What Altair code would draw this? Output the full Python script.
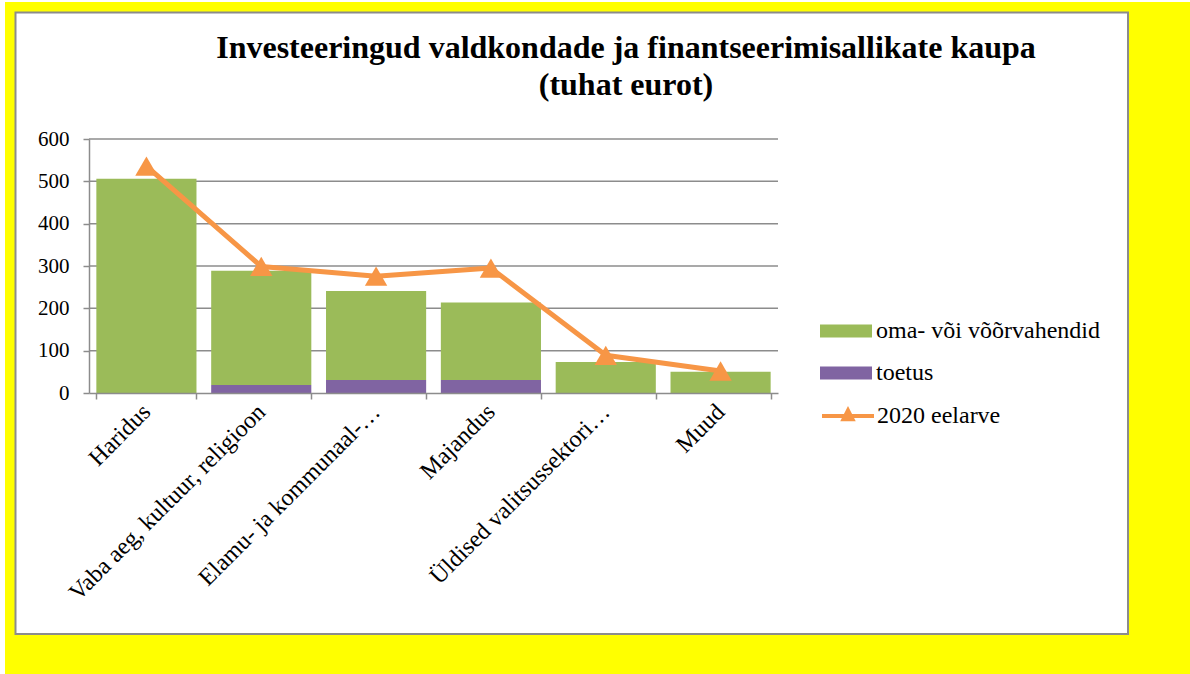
import altair as alt
import pandas as pd

categories = [
    "Haridus",
    "Vaba aeg, kultuur, religioon",
    "Elamu- ja kommunaal-…",
    "Majandus",
    "Üldised valitsussektori…",
    "Muud",
]
oma = [506, 270, 210, 183, 73, 50]
toetus = [0, 19, 31, 31, 0, 0]
eelarve = [536, 299, 276, 295, 89, 52]
y_ticks = [0, 100, 200, 300, 400, 500, 600]
grid_values = [100, 200, 300, 400, 500, 600]

S_OMA = "oma- või võõrvahendid"
S_TOE = "toetus"
S_LINE = "2020 eelarve"

FONT = "Liberation Serif"
GREY = "#8c8c8c"

rows = []
for c, v in zip(categories, toetus):
    rows.append({"cat": c, "series": S_TOE, "value": v, "stack": 0})
for c, v in zip(categories, oma):
    rows.append({"cat": c, "series": S_OMA, "value": v, "stack": 1})
bars_df = pd.DataFrame(rows)
line_df = pd.DataFrame({"cat": categories, "series": S_LINE, "value": eelarve})
grid_df = pd.DataFrame({"v": grid_values})
one = pd.DataFrame({"a": [0]})

x_axis = alt.Axis(
    title=None, labelAngle=-45, labelAlign="right", labelBaseline="middle",
    tickBand="extent", tickSize=6, tickColor=GREY, tickWidth=1.5,
    domainColor=GREY, domainWidth=1.5, labelFont=FONT, labelFontSize=24,
    labelColor="black", labelPadding=9, labelLimit=400, zindex=1,
    grid=False, labelOverlap=False,
)
y_axis = alt.Axis(
    title=None, values=y_ticks, grid=False, zindex=1, domainColor=GREY,
    domainWidth=1.5, tickColor=GREY, tickWidth=1.5, tickSize=6,
    labelFont=FONT, labelFontSize=21, labelColor="black", labelPadding=14,
)
x_scale = alt.Scale(paddingInner=0.128, paddingOuter=0.064)
y_scale = alt.Scale(domain=[0, 600])

x_enc = alt.X("cat:N", sort=categories, scale=x_scale, axis=x_axis)

yellow = alt.Chart(one).mark_rect(fill="#FFFF00").encode(
    x=alt.value(-84), x2=alt.value(1101), y=alt.value(-137), y2=alt.value(535)
)
white = alt.Chart(one).mark_rect(fill="white", stroke=GREY, strokeWidth=2).encode(
    x=alt.value(-73.5), x2=alt.value(1039), y=alt.value(-126.5), y2=alt.value(495)
)
grid = alt.Chart(grid_df).mark_rule(color=GREY, strokeWidth=1.5).encode(
    y=alt.Y("v:Q", scale=y_scale, axis=y_axis)
)

bars = alt.Chart(bars_df).mark_bar().encode(
    x=x_enc,
    y=alt.Y("value:Q", stack="zero", scale=y_scale, axis=y_axis),
    color=alt.Color(
        "series:N",
        scale=alt.Scale(domain=[S_OMA, S_TOE], range=["#9BBB59", "#8064A2"]),
        legend=alt.Legend(
            title=None, orient="none", legendX=741, legendY=176,
            symbolType="M-1.625,-0.406H1.625V0.406H-1.625Z", symbolSize=1024,
            symbolStrokeWidth=0, labelFont=FONT, labelFontSize=24,
            labelColor="black", labelOffset=14, rowPadding=14, padding=0,
            labelLimit=400,
        ),
    ),
    order=alt.Order("stack:Q", sort="ascending"),
)

line = alt.Chart(line_df).mark_line(
    strokeWidth=5, strokeJoin="round", strokeCap="round",
    point=alt.OverlayMarkDef(shape="triangle-up", size=500, filled=True, opacity=1),
).encode(
    x=x_enc,
    y=alt.Y("value:Q", scale=y_scale, axis=y_axis),
    color=alt.Color(
        "series:N",
        scale=alt.Scale(domain=[S_LINE], range=["#F79646"]),
        legend=alt.Legend(
            title=None, orient="none", legendX=741, legendY=259,
            symbolType="M-1.625,0H1.625M-0.28,0.2L0,-0.35L0.28,0.2Z",
            symbolSize=1024, symbolStrokeWidth=4, symbolFillColor="#F79646",
            symbolStrokeColor="#F79646", labelFont=FONT, labelFontSize=24,
            labelColor="black", labelOffset=11, padding=0, labelLimit=400,
        ),
    ),
)

chart = alt.layer(yellow, white, grid, bars, line).resolve_scale(
    color="independent"
).properties(
    width=689,
    height=254,
    padding={"left": 89, "top": 139, "right": 412, "bottom": 281},
    autosize=alt.AutoSizeParams(type="none"),
    background="white",
    title=alt.Title(
        text=["Investeeringud valdkondade ja finantseerimisallikate kaupa", "(tuhat eurot)"],
        font=FONT, fontSize=32, fontWeight="bold", color="black",
        anchor="middle", frame="group", offset=0, dx=192.5, dy=125,
        baseline="alphabetic", lineHeight=37,
    ),
).configure_view(stroke=None)

chart.save("out.html", embed_options={"renderer": "svg", "actions": False})
